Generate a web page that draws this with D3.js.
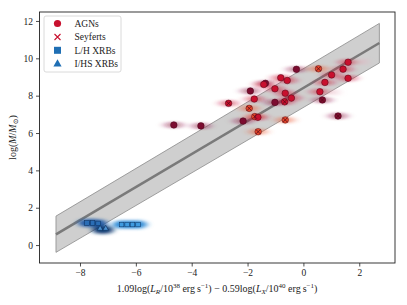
<!DOCTYPE html>
<html><head><meta charset="utf-8">
<script src="https://cdn.jsdelivr.net/npm/d3@7"></script>
<style>
html,body{margin:0;padding:0;background:#fff;}
svg text{font-family:"Liberation Serif","DejaVu Serif",serif;fill:#222;}
</style></head>
<body><svg id="c" width="407" height="305"></svg>
<script>
// ---- data ----
const xTicks = [-8, -6, -4, -2, 0, 2];
const yTicks = [0, 2, 4, 6, 8, 10, 12];
// fit line and band
const lineX = [-8.86, 2.72];
const lineY = [0.57, 10.82];
const bandLow = [-0.39, 9.75];
const bandHigh = [1.55, 11.87];
// AGNs: x, y, tone (0 dark, 1 red, 2 orange), seyfert flag
const agnX = [-0.25, 0.54, 1.60, 1.42, 1.01, 0.77, 1.60, 0.59, 0.68, 1.24, -0.81, -0.58, -1.36, -1.42, -1.02, -1.90, -0.65, -0.43, -0.67, -1.02, -1.76, -2.68, -1.94, -1.74, -1.63, -2.16, -0.65, -1.62, -3.67, -4.64];
const agnY = [9.41, 9.44, 9.79, 9.42, 9.11, 8.71, 8.93, 8.21, 7.77, 6.91, 8.96, 8.81, 8.66, 8.60, 8.37, 8.25, 8.13, 7.87, 7.67, 7.64, 7.82, 7.59, 7.32, 6.88, 6.84, 6.64, 6.70, 6.07, 6.38, 6.43];
const agnTone = [0, 2, 1, 1, 1, 1, 1, 1, 0, 0, 1, 1, 0, 1, 1, 0, 1, 1, 1, 0, 1, 1, 2, 2, 1, 0, 2, 2, 0, 0];
const agnSey = [0, 1, 0, 0, 0, 0, 0, 0, 1, 1, 0, 0, 0, 0, 0, 0, 0, 0, 1, 0, 0, 1, 1, 1, 0, 0, 1, 1, 0, 0];
// faint AGN samples
const faintX = [2.14, 1.12];
const faintY = [9.82, 8.18];
// XRBs
const lhX = [-7.75, -7.55, -7.35, -6.51, -6.31, -6.12, -5.92];
const lhY = [1.18, 1.18, 1.16, 1.10, 1.10, 1.10, 1.10];
const ihsX = [-7.28, -7.08];
const ihsY = [0.90, 0.90];
const legendLabels = ["AGNs", "Seyferts", "L/H XRBs", "I/HS XRBs"];

// ---- drawing ----
const svg = d3.select("#c");
const L = 39.5, R = 395, T = 12, B = 263;
const x = d3.scaleLinear().domain([-9.45, 3.28]).range([L, R]);
const y = d3.scaleLinear().domain([-0.96, 12.48]).range([B, T]);

const defs = svg.append("defs");
defs.append("filter").attr("id", "smear").attr("x", "-100%").attr("y", "-100%").attr("width", "300%").attr("height", "300%")
  .append("feGaussianBlur").attr("stdDeviation", "4 1.2");
defs.append("filter").attr("id", "smearB").attr("x", "-100%").attr("y", "-100%").attr("width", "300%").attr("height", "300%")
  .append("feGaussianBlur").attr("stdDeviation", "3 1.4");
defs.append("clipPath").attr("id", "clip").append("rect").attr("x", L).attr("y", T).attr("width", R - L).attr("height", B - T);

const plot = svg.append("g").attr("clip-path", "url(#clip)");

// band
const bandData = lineX.map((v, i) => ({x: v, lo: bandLow[i], hi: bandHigh[i]}));
plot.append("path").datum(bandData)
  .attr("d", d3.area().x(d => x(d.x)).y0(d => y(d.lo)).y1(d => y(d.hi)))
  .attr("fill", "#cfcfcf").attr("stroke", "#8a8a8a").attr("stroke-width", 0.8);
plot.append("path").datum(lineX.map((v, i) => [v, lineY[i]]))
  .attr("d", d3.line().x(d => x(d[0])).y(d => y(d[1])))
  .attr("stroke", "#7a7a7a").attr("stroke-width", 2.6).attr("fill", "none");

const toneFill = ["#7c0c30", "#c8102e", "#e5482a"];
const toneSmear = ["#8e1040", "#cc1a3a", "#ee5a30"];
const agn = agnX.map((v, i) => ({x: v, y: agnY[i], t: agnTone[i], s: agnSey[i]}));

// XRB smears
const xrb = lhX.map((v, i) => ({x: v, y: lhY[i]}));
const ihs = ihsX.map((v, i) => ({x: v, y: ihsY[i]}));
const sm = plot.append("g").attr("filter", "url(#smearB)");
sm.selectAll(".xs").data(xrb).join("ellipse")
  .attr("cx", d => x(d.x)).attr("cy", d => y(d.y)).attr("rx", 9).attr("ry", 4)
  .attr("fill", (d, i) => i < 3 ? "#1a5aa5" : "#2d8ad6").attr("opacity", 0.95);
sm.selectAll(".is").data(ihs).join("ellipse")
  .attr("cx", d => x(d.x)).attr("cy", d => y(d.y) + 1.5).attr("rx", 8).attr("ry", 4)
  .attr("fill", "#0f3a72").attr("opacity", 0.95);

// AGN smears
const sa = plot.append("g").attr("filter", "url(#smear)");
sa.selectAll("ellipse").data(agn).join("ellipse")
  .attr("cx", d => x(d.x)).attr("cy", d => y(d.y)).attr("rx", 9).attr("ry", 3.2)
  .attr("fill", d => toneSmear[d.t]).attr("opacity", 0.5);
sa.selectAll(".f").data(faintX.map((v, i) => ({x: v, y: faintY[i]}))).join("circle")
  .attr("cx", d => x(d.x)).attr("cy", d => y(d.y)).attr("r", 3.5)
  .attr("fill", "#e8b0bf").attr("opacity", 0.5);

// AGN points
plot.selectAll(".agn").data(agn).join("circle")
  .attr("cx", d => x(d.x)).attr("cy", d => y(d.y)).attr("r", 3.3)
  .attr("fill", d => toneFill[d.t]).attr("stroke", "#4a0818").attr("stroke-width", 0.5);
const sey = agn.filter(d => d.s);
const s = 2.2;
plot.selectAll(".sey").data(sey).join("path")
  .attr("d", d => `M${x(d.x) - s},${y(d.y) - s}L${x(d.x) + s},${y(d.y) + s}M${x(d.x) - s},${y(d.y) + s}L${x(d.x) + s},${y(d.y) - s}`)
  .attr("stroke", "#5a0a18").attr("stroke-width", 0.8).attr("fill", "none");

// XRB markers
plot.selectAll(".lh").data(xrb).join("rect")
  .attr("x", d => x(d.x) - 2.3).attr("y", d => y(d.y) - 2.3).attr("width", 4.6).attr("height", 4.6)
  .attr("fill", (d, i) => i < 3 ? "#2a6db5" : "#3f9be0").attr("stroke", "#0c2f5a").attr("stroke-width", 0.5);
plot.selectAll(".ihs").data(ihs).join("path")
  .attr("d", d => `M${x(d.x)},${y(d.y) - 3}L${x(d.x) + 2.8},${y(d.y) + 2}L${x(d.x) - 2.8},${y(d.y) + 2}Z`)
  .attr("fill", "#4a8fd0").attr("stroke", "#0c2f5a").attr("stroke-width", 0.6);

// axes
const xa = svg.append("g").attr("transform", `translate(0,${B})`)
  .call(d3.axisBottom(x).tickValues(xTicks).tickSize(3.5).tickPadding(3).tickFormat(d => d < 0 ? "\u2212" + Math.abs(d) : d));
const ya = svg.append("g").attr("transform", `translate(${L},0)`)
  .call(d3.axisLeft(y).tickValues(yTicks).tickSize(3.5).tickPadding(3).tickFormat(d => d < 0 ? "\u2212" + Math.abs(d) : d));
[xa, ya].forEach(a => {
  a.select(".domain").remove();
  a.selectAll("line").attr("stroke", "#222").attr("stroke-width", 0.8);
  a.selectAll("text").attr("font-family", "Liberation Serif").attr("font-size", 9.5).attr("fill", "#222");
});
svg.append("rect").attr("x", L).attr("y", T).attr("width", R - L).attr("height", B - T)
  .attr("fill", "none").attr("stroke", "#222").attr("stroke-width", 0.9);

// labels
const yl = svg.append("text").attr("transform", `translate(16,${(T + B) / 2}) rotate(-90)`)
  .attr("text-anchor", "middle").attr("font-size", 10);
yl.append("tspan").text("log(");
yl.append("tspan").attr("font-style", "italic").text("M");
yl.append("tspan").text("/");
yl.append("tspan").attr("font-style", "italic").text("M");
yl.append("tspan").attr("font-size", 7).attr("dy", 2).text("\u2299");
yl.append("tspan").attr("dy", -2).text(")");

const xl = svg.append("text").attr("x", 217).attr("y", 292).attr("text-anchor", "middle").attr("font-size", 10);
function part(t, opts) { const sp = xl.append("tspan").text(t); if (opts) Object.entries(opts).forEach(([k, v]) => sp.attr(k, v)); return sp; }
part("1.09log(");
part("L", {"font-style": "italic"});
part("R", {"font-style": "italic", "font-size": 7, "dy": 2});
part("/10", {"dy": -2});
part("38", {"font-size": 7, "dy": -4});
part(" erg\u2009s", {"dy": 4});
part("\u22121", {"font-size": 7, "dy": -4});
part(") \u2212 0.59log(", {"dy": 4});
part("L", {"font-style": "italic"});
part("X", {"font-style": "italic", "font-size": 7, "dy": 2});
part("/10", {"dy": -2});
part("40", {"font-size": 7, "dy": -4});
part(" erg\u2009s", {"dy": 4});
part("\u22121", {"font-size": 7, "dy": -4});
part(")", {"dy": 4});

// legend
const lg = svg.append("g");
lg.append("rect").attr("x", 44).attr("y", 16).attr("width", 77).attr("height", 56).attr("rx", 2)
  .attr("fill", "#fff").attr("fill-opacity", 0.85).attr("stroke", "#d0d0d0").attr("stroke-width", 0.8);
const rows = [23.5, 37, 50.3, 63.5];
lg.selectAll(".lt").data(legendLabels).join("text")
  .attr("x", 74.5).attr("y", (d, i) => rows[i] + 3.4).attr("font-size", 9.5).text(d => d);
lg.append("circle").attr("cx", 57.5).attr("cy", rows[0]).attr("r", 3.6).attr("fill", "#c8102e");
lg.append("path").attr("d", `M${54.5},${rows[1] - 3}L${60.5},${rows[1] + 3}M${54.5},${rows[1] + 3}L${60.5},${rows[1] - 3}`)
  .attr("stroke", "#c8102e").attr("stroke-width", 1.1);
lg.append("rect").attr("x", 54).attr("y", rows[2] - 3.5).attr("width", 7).attr("height", 7).attr("fill", "#1f6fb4");
lg.append("path").attr("d", `M57.5,${rows[3] - 4.2}L61.6,${rows[3] + 3}L53.4,${rows[3] + 3}Z`).attr("fill", "#1f6fb4");
</script></body></html>
